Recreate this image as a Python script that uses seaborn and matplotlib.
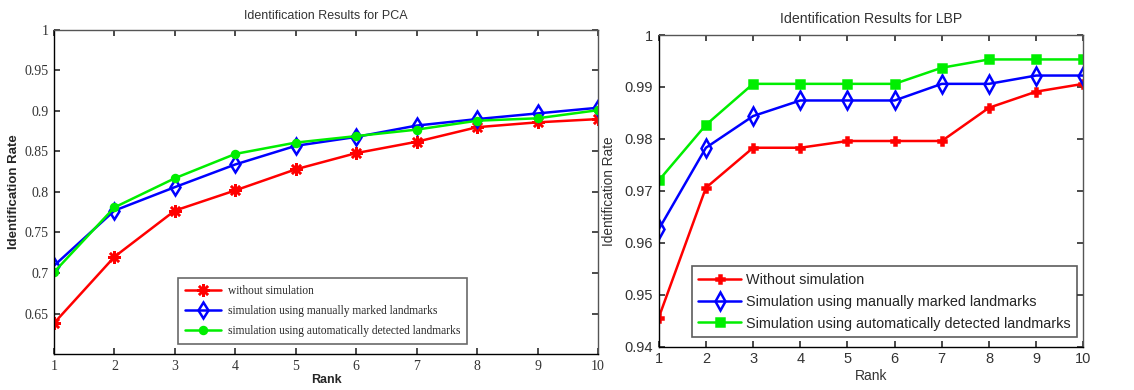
import pandas as pd
import matplotlib.pyplot as plt
import seaborn as sns

sns.set_theme(style="white")

rank = [1, 2, 3, 4, 5, 6, 7, 8, 9, 10]

# PCA panel
pca_without = [0.638, 0.720, 0.777, 0.802, 0.828, 0.848, 0.862, 0.880, 0.886, 0.890]
pca_manual = [0.709, 0.777, 0.806, 0.834, 0.857, 0.868, 0.882, 0.890, 0.897, 0.904]
pca_auto = [0.701, 0.781, 0.817, 0.847, 0.861, 0.869, 0.877, 0.888, 0.891, 0.901]

# LBP panel
lbp_without = [0.9456, 0.9706, 0.9783, 0.9783, 0.9796, 0.9796, 0.9796, 0.9860, 0.9891, 0.9906]
lbp_manual = [0.9626, 0.9783, 0.9844, 0.9874, 0.9874, 0.9874, 0.9906, 0.9906, 0.9922, 0.9922]
lbp_auto = [0.9720, 0.9827, 0.9906, 0.9906, 0.9906, 0.9906, 0.9937, 0.9953, 0.9953, 0.9953]

pca_labels = ['without simulation',
              'simulation using manually marked landmarks',
              'simulation using automatically detected landmarks']
lbp_labels = ['Without simulation',
              'Simulation using manually marked landmarks',
              'Simulation using automatically detected landmarks']

colors = ['#ff0000', '#0000ff', '#00ee00']
sans = 'Liberation Sans'


def draw_series(ax, series, labels, markers, sizes):
    for vals, lab, col, mk, ms in zip(series, labels, colors, markers, sizes):
        d = pd.DataFrame({'Rank': rank, 'Rate': vals})
        face = 'none' if mk == 'd' else col
        sns.lineplot(data=d, x='Rank', y='Rate', ax=ax, color=col, label=lab,
                     marker=mk, markersize=ms, markerfacecolor=face,
                     markeredgecolor=col, markeredgewidth=1.8, linewidth=1.8)


def style_axes(ax):
    for s in ['left', 'bottom']:
        ax.spines[s].set_color('black')
    for s in ['top', 'right']:
        ax.spines[s].set_color('#555555')
    for s in ax.spines.values():
        s.set_linewidth(1.0)
    ax.tick_params(direction='in', length=4, top=True, right=True,
                   bottom=True, left=True, color='#333333', pad=4)


fig = plt.figure(figsize=(11.34, 3.9), dpi=100)
ax1 = fig.add_axes([0.0476, 0.0923, 0.4797, 0.8308])
ax2 = fig.add_axes([0.5809, 0.111, 0.3744, 0.7992])

# ---- PCA ----
draw_series(ax1, [pca_without, pca_manual, pca_auto], pca_labels,
            [(8, 2, 0), 'd', 'o'], [9, 8, 5])
ax1.set_xlim(1, 10)
ax1.set_ylim(0.6, 1.0)
ax1.set_xticks(rank)
ax1.set_yticks([0.65, 0.7, 0.75, 0.8, 0.85, 0.9, 0.95, 1.0])
ax1.set_yticklabels(['0.65', '0.7', '0.75', '0.8', '0.85', '0.9', '0.95', '1'])
for t in ax1.get_xticklabels() + ax1.get_yticklabels():
    t.set_fontfamily('Liberation Serif')
    t.set_fontsize(10)
    t.set_color('#333333')
ax1.set_title('Identification Results for PCA', fontsize=9, family=sans,
              color='#333333', pad=8)
ax1.set_xlabel('Rank', fontsize=9, family=sans, fontweight='bold', labelpad=1)
ax1.set_ylabel('Identification Rate', fontsize=9.5, family=sans,
               fontweight='bold', labelpad=3)
style_axes(ax1)
leg1 = ax1.legend(loc='lower right', bbox_to_anchor=(0.759, 0.031),
                  borderaxespad=0, frameon=True, fancybox=False,
                  prop={'family': 'Liberation Serif', 'size': 8.3},
                  handlelength=3.1, borderpad=0.6, labelspacing=0.7,
                  handletextpad=0.6)
leg1.get_frame().set_edgecolor('#444444')
leg1.get_frame().set_linewidth(1.2)

# ---- LBP ----
draw_series(ax2, [lbp_without, lbp_manual, lbp_auto], lbp_labels,
            ['P', 'd', 's'], [6, 9, 6])
ax2.set_xlim(1, 10)
ax2.set_ylim(0.94, 1.0)
ax2.set_xticks(rank)
ax2.set_yticks([0.94, 0.95, 0.96, 0.97, 0.98, 0.99, 1.0])
ax2.set_yticklabels(['0.94', '0.95', '0.96', '0.97', '0.98', '0.99', '1'])
for t in ax2.get_xticklabels() + ax2.get_yticklabels():
    t.set_fontfamily(sans)
    t.set_fontsize(10.5)
    t.set_color('#333333')
ax2.set_title('Identification Results for LBP', fontsize=10.2, family=sans,
              color='#333333', pad=9)
ax2.set_xlabel('Rank', fontsize=10, family=sans, color='#333333', labelpad=2)
ax2.set_ylabel('Identification Rate', fontsize=9.8, family=sans,
               color='#333333', labelpad=6)
style_axes(ax2)
leg2 = ax2.legend(loc='lower right', bbox_to_anchor=(0.985, 0.031),
                  borderaxespad=0, frameon=True, fancybox=False,
                  prop={'family': sans, 'size': 10.4},
                  handlelength=3.0, borderpad=0.45, labelspacing=0.55,
                  handletextpad=0.3)
leg2.get_frame().set_edgecolor('#333333')
leg2.get_frame().set_linewidth(1.2)

fig.savefig('out.png', dpi=100)
